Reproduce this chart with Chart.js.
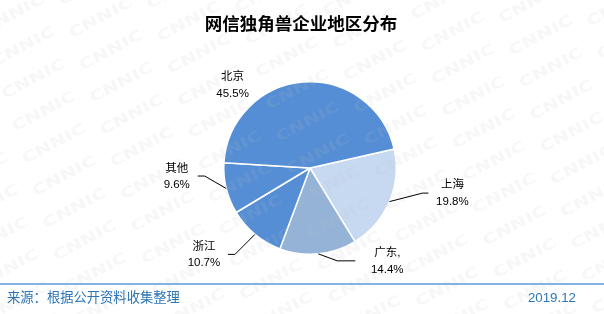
<!DOCTYPE html>
<html>
<head>
<meta charset="utf-8">
<script src="https://cdn.jsdelivr.net/npm/chart.js@4"></script>
<style>
  body { margin: 0; background: #fff; }
  #wrap { width: 604px; height: 314px; }
</style>
</head>
<body>
<div id="wrap"><canvas id="pie-chart" width="604" height="314"></canvas></div>
<script>
const regions = ['上海', '广东', '浙江', '其他', '北京'];
const labelLines = [['上海', '19.8%'], ['广东,', '14.4%'], ['浙江', '10.7%'], ['其他', '9.6%'], ['北京', '45.5%']];
const shares = [19.8, 14.4, 10.7, 9.6, 45.5];
const sliceColors = ['#c6d9f1', '#95b3d7', '#558ed5', '#558ed5', '#558ed5'];

// label placement relative to the slice's outer edge point (elbow, line end, text centre)
const leaders = [
    { elbow: [33, -8.5], end: [39, -8.5], text: [63, -8.5] },
    { elbow: [19, 7], end: [37, 7], text: [69, 7] },
    { elbow: [-20, 20], end: [-27, 20], text: [-51, 20] },
    { elbow: [-21.5, -12.5], end: [-28.5, -12.5], text: [-49.5, -12] },
    { elbow: null, end: null, text: [-70.5, 3] }
];

const cjk = '"Liberation Sans", Arial, "Noto Sans CJK SC", sans-serif';

const decorations = {
    id: 'decorations',
    afterDatasetsDraw(chart) {
        const ctx = chart.ctx;
        const W = chart.width;

        // CNNIC watermark
        ctx.save();
        ctx.fillStyle = 'rgba(190,190,190,0.13)';
        ctx.font = 'bold 18px "DejaVu Sans", sans-serif';
        ctx.textAlign = 'center';
        ctx.textBaseline = 'middle';
        for (let k = -2; k < 9; k++) {
            for (let j = -1; j < 11; j++) {
                const x = 13 + 88 * k + 10.3 * j;
                const y = 15 + 3.5 * k + 32.3 * j;
                ctx.save();
                ctx.translate(x, y);
                ctx.rotate(-28 * Math.PI / 180);
                ctx.scale(1.1, 0.8);
                ctx.fillText('CNNIC', 0, 0);
                ctx.restore();
            }
        }
        ctx.restore();

        // slice labels and leader lines
        const arcs = chart.getDatasetMeta(0).data;
        ctx.save();
        ctx.strokeStyle = '#000';
        ctx.lineWidth = 1;
        ctx.fillStyle = '#000';
        ctx.font = '11.5px ' + cjk;
        ctx.textAlign = 'center';
        ctx.textBaseline = 'middle';
        arcs.forEach((arc, i) => {
            const p = arc.getProps(['x', 'y', 'startAngle', 'endAngle', 'outerRadius'], true);
            const mid = (p.startAngle + p.endAngle) / 2;
            const ex = p.x + p.outerRadius * Math.cos(mid);
            const ey = p.y + p.outerRadius * Math.sin(mid);
            const L = leaders[i];
            if (L.elbow) {
                ctx.beginPath();
                ctx.moveTo(ex, ey);
                ctx.lineTo(ex + L.elbow[0], ey + L.elbow[1]);
                ctx.lineTo(ex + L.end[0], ey + L.end[1]);
                ctx.stroke();
            }
            const tx = ex + L.text[0];
            const ty = ey + L.text[1];
            ctx.fillText(labelLines[i][0], tx, ty - 8);
            ctx.fillText(labelLines[i][1], tx, ty + 8.5);
        });
        ctx.restore();

        // title
        ctx.save();
        ctx.fillStyle = '#000';
        ctx.font = 'bold 17.5px "Noto Sans CJK SC", sans-serif';
        ctx.textAlign = 'center';
        ctx.textBaseline = 'middle';
        ctx.fillText('网信独角兽企业地区分布', 301, 23);

        // footer
        ctx.strokeStyle = '#5b9bd5';
        ctx.lineWidth = 1.5;
        ctx.beginPath();
        ctx.moveTo(0, 284);
        ctx.lineTo(W, 284);
        ctx.stroke();
        ctx.fillStyle = '#2e75b6';
        ctx.font = '13.3px ' + cjk;
        ctx.textAlign = 'left';
        ctx.fillText('来源：根据公开资料收集整理', 7, 298);
        ctx.textAlign = 'right';
        ctx.fillText('2019.12', 576, 298);
        ctx.restore();
    }
};

new Chart(document.getElementById('pie-chart').getContext('2d'), {
    type: 'pie',
    data: {
        labels: regions,
        datasets: [{
            data: shares,
            backgroundColor: sliceColors,
            borderColor: '#ffffff',
            borderWidth: 1.5
        }]
    },
    options: {
        responsive: false,
        animation: false,
        rotation: 77.3,
        layout: { padding: { left: 223, right: 207, top: 81, bottom: 59 } },
        plugins: {
            legend: { display: false },
            tooltip: { enabled: false },
            title: { display: false }
        }
    },
    plugins: [decorations]
});
</script>
</body>
</html>
